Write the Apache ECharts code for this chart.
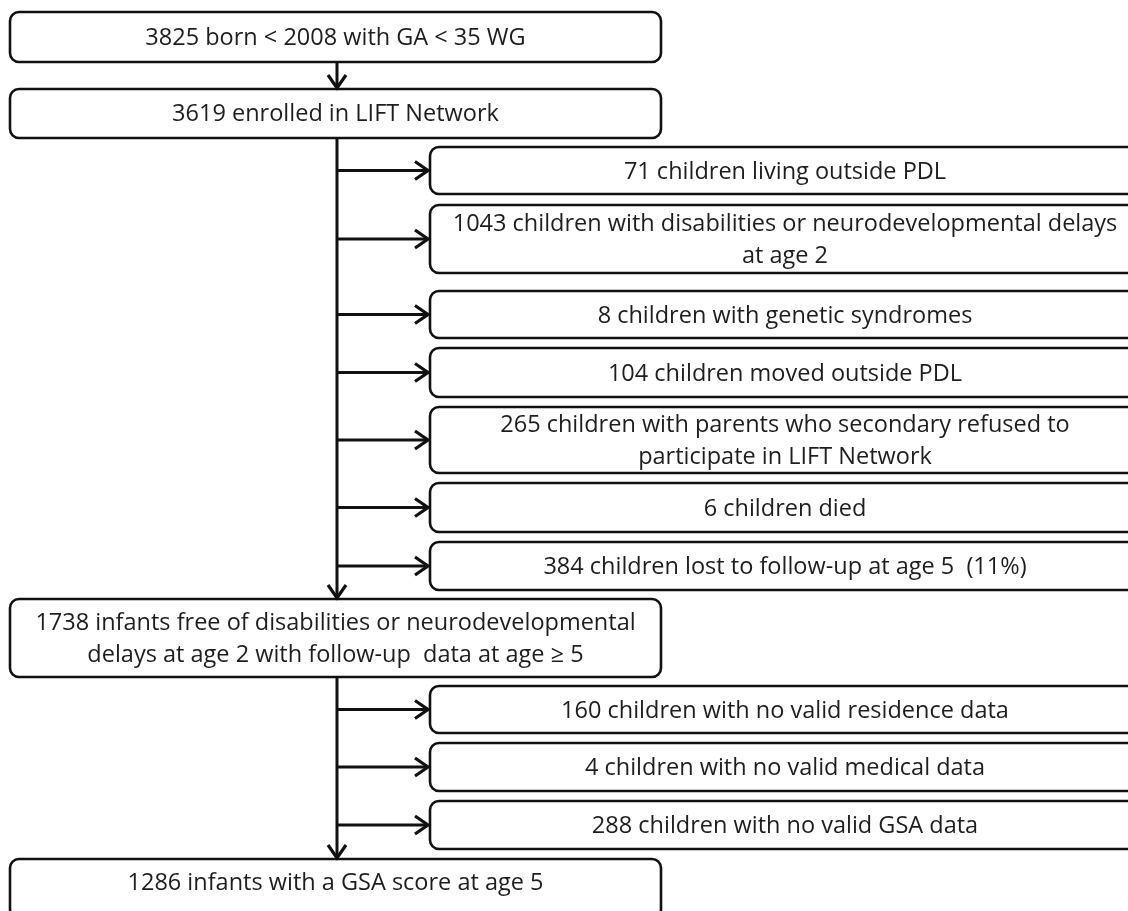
<!DOCTYPE html>
<html><head><meta charset="utf-8">
<script src="https://cdn.jsdelivr.net/npm/echarts@6/dist/echarts.min.js"></script>
<style>html,body{margin:0;padding:0;background:#fff}#c{width:1128px;height:911px}</style>
</head><body><div id="c"></div>
<script>
// Main flow boxes
const mainLabels = [
  '3825 born < 2008 with GA < 35 WG',
  '3619 enrolled in LIFT Network',
  '1738 infants free of disabilities or neurodevelopmental\ndelays at age 2 with follow-up  data at age \u2265 5',
  '1286 infants with a GSA score at age 5'
];
const mainTop = [12, 89, 599, 859];
const mainBottom = [62, 138, 677, 918];
const mainTextY = [37, 113, 638, 882];

// Exclusion boxes
const exclLabels = [
  '71 children living outside PDL',
  '1043 children with disabilities or neurodevelopmental delays\nat age 2',
  '8 children with genetic syndromes',
  '104 children moved outside PDL',
  '265 children with parents who secondary refused to\nparticipate in LIFT Network',
  '6 children died',
  '384 children lost to follow-up at age 5  (11%)',
  '160 children with no valid residence data',
  '4 children with no valid medical data',
  '288 children with no valid GSA data'
];
const exclTop = [147, 205, 291, 348, 407, 483, 542, 686, 743, 801];
const exclBottom = [194, 273, 338, 397, 473, 532, 590, 733, 791, 849];

const mainX = [10, 661];
const exclX = [430, 1140];
const trunkX = 337;

const boxData = [];
mainLabels.forEach((t, i) => boxData.push([mainX[0], mainTop[i], mainX[1], mainBottom[i], mainTextY[i], t]));
exclLabels.forEach((t, i) => boxData.push([exclX[0], exclTop[i], exclX[1], exclBottom[i], (exclTop[i] + exclBottom[i]) / 2, t]));

// arrows: [x0, y0, x1, y1]
const arrowData = [];
for (let i = 0; i < mainLabels.length - 1; i++) {
  arrowData.push([trunkX, mainBottom[i], trunkX, mainTop[i + 1] - 1]);
}
exclLabels.forEach((t, i) => {
  const y = (exclTop[i] + exclBottom[i]) / 2;
  arrowData.push([trunkX, y, exclX[0] - 2, y]);
});

const FONT = '"Open Sans", "Noto Sans", sans-serif';
const chart = echarts.init(document.getElementById('c'), null, {renderer: 'canvas'});
chart.setOption({
  animation: false,
  backgroundColor: '#fff',
  grid: {left: 0, right: 0, top: 0, bottom: 0},
  xAxis: {type: 'value', min: 0, max: 1128, show: false},
  yAxis: {type: 'value', min: 0, max: 911, inverse: true, show: false},
  series: [
    {
      type: 'custom',
      coordinateSystem: 'cartesian2d',
      data: boxData,
      clip: false,
      renderItem: function (params, api) {
        const d = boxData[params.dataIndex];
        const p0 = api.coord([d[0], d[1]]);
        const p1 = api.coord([d[2], d[3]]);
        const pc = api.coord([(d[0] + d[2]) / 2, d[4]]);
        return {
          type: 'group',
          children: [
            {
              type: 'rect',
              shape: {x: p0[0], y: p0[1], width: p1[0] - p0[0], height: p1[1] - p0[1], r: 9},
              style: {fill: '#fff', stroke: '#111', lineWidth: 2.6}
            },
            {
              type: 'text',
              style: {
                x: pc[0], y: pc[1] + 1.5, text: d[5],
                align: 'center', verticalAlign: 'middle',
                font: '23.5px ' + FONT, fill: '#1e1e1e', lineHeight: 32
              }
            }
          ]
        };
      }
    },
    {
      type: 'custom',
      coordinateSystem: 'cartesian2d',
      data: arrowData,
      clip: false,
      renderItem: function (params, api) {
        const d = arrowData[params.dataIndex];
        const a = api.coord([d[0], d[1]]);
        const b = api.coord([d[2], d[3]]);
        const dx = b[0] - a[0], dy = b[1] - a[1];
        const len = Math.sqrt(dx * dx + dy * dy);
        const ux = dx / len, uy = dy / len;
        const hl = 13, hw = 9;
        const h1 = [b[0] - ux * hl - uy * hw, b[1] - uy * hl + ux * hw];
        const h2 = [b[0] - ux * hl + uy * hw, b[1] - uy * hl - ux * hw];
        return {
          type: 'group',
          children: [
            {type: 'line', shape: {x1: a[0], y1: a[1], x2: b[0] - ux * 1.5, y2: b[1] - uy * 1.5},
             style: {stroke: '#111', lineWidth: 3}},
            {type: 'polyline', shape: {points: [h1, b, h2]},
             style: {stroke: '#111', lineWidth: 3.2, fill: null, lineJoin: 'miter'}}
          ]
        };
      }
    }
  ]
});
</script></body></html>
